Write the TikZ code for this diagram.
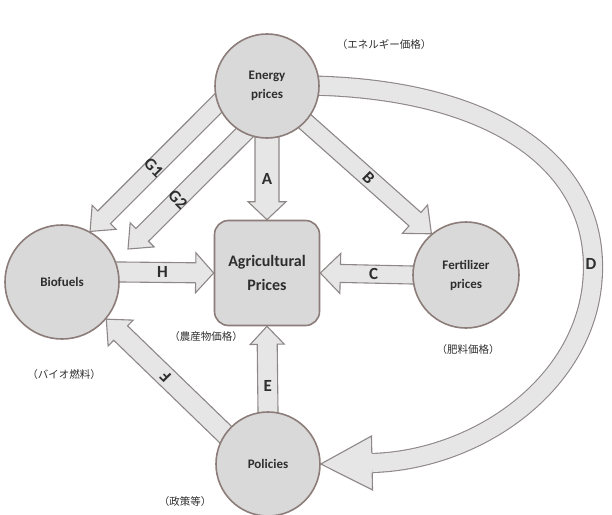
\documentclass[tikz,border=0pt]{standalone}
\usepackage{fontspec}
\setmainfont{Carlito}
\newfontfamily\jpfont{Noto Sans CJK JP}
\usetikzlibrary{calc, backgrounds}
\definecolor{ringline}{HTML}{8C7D7A}
\definecolor{ringfill}{HTML}{D9D9D9}
\definecolor{arrowline}{HTML}{8E8787}
\definecolor{arrowfill}{HTML}{E6E6E6}
\definecolor{inktext}{HTML}{2E2E2E}
\tikzstyle{ring} = [circle, draw=ringline, fill=ringfill, line width=1.6pt, minimum size=104pt, inner sep=0pt, align=center, text=inktext, font=\fontsize{13}{19}\selectfont\bfseries]
\tikzstyle{pricebox} = [rectangle, rounded corners=14pt, draw=ringline, fill=ringfill, line width=1.6pt, minimum width=105pt, minimum height=105pt, align=center, text=inktext, font=\fontsize{16}{24}\selectfont\bfseries]
\tikzstyle{jp} = [text=inktext, font=\jpfont\fontsize{10.5}{12}\selectfont]
\tikzstyle{letter} = [text=inktext, font=\fontsize{17}{20}\selectfont\bfseries, inner sep=0pt]
\tikzstyle{blockarrow} = [draw=arrowline, fill=arrowfill, line width=1.1pt, line join=miter]

% #1 start, #2 tip, #3 shaft half width, #4 head half width, #5 head length
\newcommand{\blockarr}[5]{%
  \coordinate (sb) at ($(#1)!-8pt!(#2)$);
  \coordinate (hb) at ($(#2)!#5!(#1)$);
  \draw[blockarrow] ($(sb)!#3!90:(#2)$) -- ($(hb)!#3!90:(#2)$) -- ($(hb)!#4!90:(#2)$) -- (#2)
    -- ($(hb)!#4!-90:(#2)$) -- ($(hb)!#3!-90:(#2)$) -- ($(sb)!#3!-90:(#2)$) -- cycle;
}

\begin{document}
\begin{tikzpicture}[x=1pt, y=-1pt]
    \useasboundingbox (0,0) rectangle (612,514);

    \node (energy) [ring] at (267,86) {Energy\\prices};
    \node (biofuels) [ring, minimum size=114pt] at (62,282) {Biofuels};
    \node (agri) [pricebox] at (267,273) {Agricultural\\Prices};
    \node (fertilizer) [ring, minimum size=106pt] at (466,275) {Fertilizer\\prices};
    \node (policies) [ring] at (268,464) {Policies};
    \coordinate (g2tip) at (128,249);
    \coordinate (dbase) at (372,463);

    \node (energyjp) [jp] at (384,45) {（エネルギー価格）};
    \node (agrijp) [jp] at (206,337) {（農産物価格）};
    \node (biofuelsjp) [jp] at (64,375) {（バイオ燃料）};
    \node (fertilizerjp) [jp] at (468,350) {（肥料価格）};
    \node (policiesjp) [jp] at (185,502) {（政策等）};

    \begin{scope}[on background layer]
    % long curved arrow D
    \draw[draw=arrowline, double=arrowfill, double distance=18pt, line width=1.1pt]
        (energy.center) .. controls (470,78) and (593,150) .. (593,267)
        .. controls (593,380) and (480,460) .. (dbase);
    \fill[arrowfill] ($(dbase)!27pt!90:(policies.east)$) -- (policies.east) -- ($(dbase)!27pt!-90:(policies.east)$) -- cycle;
    \draw[blockarrow, fill=none] ($(dbase)!9.55pt!90:(policies.east)$) -- ($(dbase)!27pt!90:(policies.east)$) -- (policies.east)
        -- ($(dbase)!27pt!-90:(policies.east)$) -- ($(dbase)!9.55pt!-90:(policies.east)$);

    \blockarr{energy.south}{agri.north}{12pt}{19pt}{18pt}
    \blockarr{energy.-43}{fertilizer.130}{9pt}{19pt}{22pt}
    \blockarr{fertilizer.west}{agri.east}{9pt}{20pt}{20pt}
    \blockarr{biofuels.10}{agri.west}{10pt}{20pt}{18pt}
    \blockarr{policies.north}{agri.south}{10pt}{17pt}{18pt}
    \blockarr{energy.200}{biofuels.61}{9pt}{17pt}{20pt}
    \blockarr{energy.244}{g2tip}{9pt}{17pt}{20pt}
    \blockarr{policies.145}{biofuels.-40}{10pt}{18pt}{20pt}
    \end{scope}

    \node (la) [letter] at ($(energy.south)!0.5!(agri.north)$) {A};
    \node (lb) [letter, rotate=-45] at ($(energy.-43)!0.5!(fertilizer.130)$) {B};
    \node (lc) [letter] at ($(fertilizer.west)!0.42!(agri.east)$) {C};
    \node (lh) [letter] at ($(biofuels.10)!0.46!(agri.west)$) {H};
    \node (le) [letter] at ($(policies.north)!0.3!(agri.south)$) {E};
    \node (lg1) [letter, rotate=-45] at ($(energy.200)!0.5!(biofuels.61)$) {G1};
    \node (lg2) [letter, rotate=-45] at ($(energy.244)!0.57!(g2tip)$) {G2};
    \node (lf) [letter, rotate=135] at ($(policies.145)!0.5!(biofuels.-40)$) {F};
    \node (ld) [letter] at (591,264) {D};

    \end{tikzpicture}
\end{document}
